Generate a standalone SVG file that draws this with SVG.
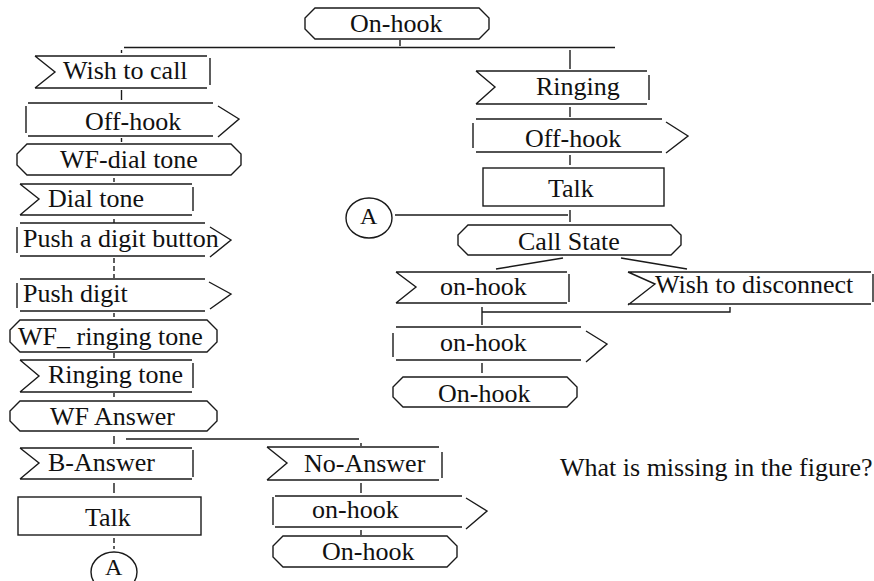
<svg xmlns="http://www.w3.org/2000/svg" width="874" height="581" viewBox="0 0 874 581">
  <style>
    .s { fill: none; stroke: #1a1a1a; stroke-width: 1.4; stroke-linejoin: miter; }
    .b { fill: #ffffff; stroke: #1a1a1a; stroke-width: 1.4; }
    .t { font-family: "Liberation Serif", "Times New Roman", serif; font-size: 26px; fill: #111; }
    .d { stroke-dasharray: 5 3; }
  </style>
  <rect width="874" height="581" fill="#ffffff"/>

  <!-- connectors -->
  <g id="connectors" class="s">
    <path d="M400 40V46"/>
    <path d="M124 47.5H615"/>
    <path d="M121.5 50V53"/>
    <path d="M570 50V69"/>
    <path d="M121.5 90V100"/>
    <path d="M121.5 138V142"/>
    <path d="M114 178V182"/>
    <path d="M114 219V223"/>
    <path class="d" d="M114 258V278"/>
    <path d="M114 313V317"/>
    <path d="M114 353V358"/>
    <path d="M114 393V397"/>
    <path d="M114 436V444"/>
    <path d="M126 439H359"/>
    <path d="M361 443V446"/>
    <path d="M114 483V493"/>
    <path class="d" d="M114 538V549"/>
    <path d="M570 107V117"/>
    <path d="M570 155V165"/>
    <path d="M570 210V222"/>
    <path d="M395 215H568"/>
    <path d="M563 258L496 269"/>
    <path d="M621 258L687 269"/>
    <path d="M482 307V325"/>
    <path d="M482 312H730V307"/>
    <path d="M482 363V373"/>
    <path d="M361 483V493"/>
    <path d="M361 530V535"/>
  </g>

  <!-- main process -->
  <g id="onhook-start">
    <path class="b" d="M315 8H479L489 18V29L479 39H315L305 29V18Z"/>
    <text class="t" x="350" y="32">On-hook</text>
  </g>

  <g id="wish-to-call" class="s">
    <path d="M35 56H207M35 88H207M35 56L55 72L35 88M210 58V85"/>
    <text class="t" x="63" y="79" stroke="none">Wish to call</text>
  </g>

  <g id="offhook-a" class="s">
    <path d="M26 106V133M28 103H213M28 136H213M218 106L239 119L218 137"/>
    <text class="t" x="85" y="130" stroke="none">Off-hook</text>
  </g>

  <g id="wf-dial-tone">
    <path class="b" d="M27 144H231L241 154V165L231 175H27L17 165V154Z"/>
    <text class="t" x="60" y="168">WF-dial tone</text>
  </g>

  <g id="dial-tone" class="s">
    <path d="M20 184H192M20 215H192M20 184L39 199L20 215M193 187V211"/>
    <text class="t" x="48" y="207" stroke="none">Dial tone</text>
  </g>

  <g id="push-digit-button" class="s">
    <path d="M17 227V253M20 223H205M20 256H205M210 227L231 240L210 257"/>
    <text class="t" x="23" y="247" stroke="none">Push a digit button</text>
  </g>

  <g id="push-digit" class="s">
    <path d="M17 283V308M20 279H205M20 311H205M209 282L231 294L210 309"/>
    <text class="t" x="23" y="302" stroke="none">Push digit</text>
  </g>

  <g id="wf-ringing-tone">
    <path class="b" d="M20 320H207L217 330V342L207 352H20L10 342V330Z"/>
    <text class="t" x="18" y="345">WF_ ringing tone</text>
  </g>

  <g id="ringing-tone" class="s">
    <path d="M20 360H192M20 392H192M20 360L39 376L20 392M193 363V388"/>
    <text class="t" x="48" y="383" stroke="none">Ringing tone</text>
  </g>

  <g id="wf-answer">
    <path class="b" d="M20 401H207L217 411V421L207 431H20L10 421V411Z"/>
    <text class="t" x="50" y="425">WF Answer</text>
  </g>

  <g id="b-answer" class="s">
    <path d="M20 448H192M20 479H192M20 448L39 463L20 479M193 450V477"/>
    <text class="t" x="48" y="471" stroke="none">B-Answer</text>
  </g>

  <g id="talk-a">
    <rect class="b" x="18" y="497" width="183" height="38"/>
    <text class="t" x="85" y="526">Talk</text>
  </g>

  <g id="connector-a-out">
    <ellipse class="b" cx="114" cy="572" rx="23" ry="20"/>
    <text class="t" x="105" y="575" style="font-size:24px">A</text>
  </g>

  <!-- no answer branch -->
  <g id="no-answer" class="s">
    <path d="M267 447H439M267 480H439M267 447L287 463L267 480M442 452V478"/>
    <text class="t" x="304" y="472" stroke="none">No-Answer</text>
  </g>

  <g id="onhook-send-b" class="s">
    <path d="M273 497V525M275 496H462M275 527H462M466 498L487 511L466 529"/>
    <text class="t" x="312" y="518" stroke="none">on-hook</text>
  </g>

  <g id="onhook-end-b">
    <path class="b" d="M283 536H447L457 546V557L447 567H283L273 557V546Z"/>
    <text class="t" x="322" y="560">On-hook</text>
  </g>

  <!-- called party -->
  <g id="ringing" class="s">
    <path d="M476 71H647M476 104H647M476 71L495 87L476 104M649 75V100"/>
    <text class="t" x="536" y="95" stroke="none">Ringing</text>
  </g>

  <g id="offhook-b" class="s">
    <path d="M473 123V148M476 119H662M476 152H662M666 122L688 136L666 153"/>
    <text class="t" x="525" y="147" stroke="none">Off-hook</text>
  </g>

  <g id="talk-b">
    <rect class="b" x="483" y="168" width="181" height="38"/>
    <text class="t" x="548" y="197">Talk</text>
  </g>

  <g id="connector-a-in">
    <ellipse class="b" cx="369" cy="218" rx="23" ry="20"/>
    <text class="t" x="360" y="224" style="font-size:24px">A</text>
  </g>

  <g id="call-state">
    <path class="b" d="M468 225H671L681 235V245L671 255H468L458 245V235Z"/>
    <text class="t" x="518" y="250">Call State</text>
  </g>

  <g id="onhook-recv" class="s">
    <path d="M396 272H567M396 303H567M396 272L416 287L396 303M569 274V302"/>
    <text class="t" x="440" y="295" stroke="none">on-hook</text>
  </g>

  <g id="wish-to-disconnect" class="s">
    <path d="M628 272H871M628 304H871M628 272L655 284L628 305M873 274V302"/>
    <text class="t" x="655" y="293" stroke="none">Wish to disconnect</text>
  </g>

  <g id="onhook-send-c" class="s">
    <path d="M393 333V357M396 327H581M396 360H581M586 331L607 344L586 362"/>
    <text class="t" x="440" y="351" stroke="none">on-hook</text>
  </g>

  <g id="onhook-end-c">
    <path class="b" d="M403 377H567L577 387V397L567 407H403L393 397V387Z"/>
    <text class="t" x="438" y="402">On-hook</text>
  </g>

  <g id="question">
    <text class="t" x="560" y="476">What is missing in the figure?</text>
  </g>
</svg>
